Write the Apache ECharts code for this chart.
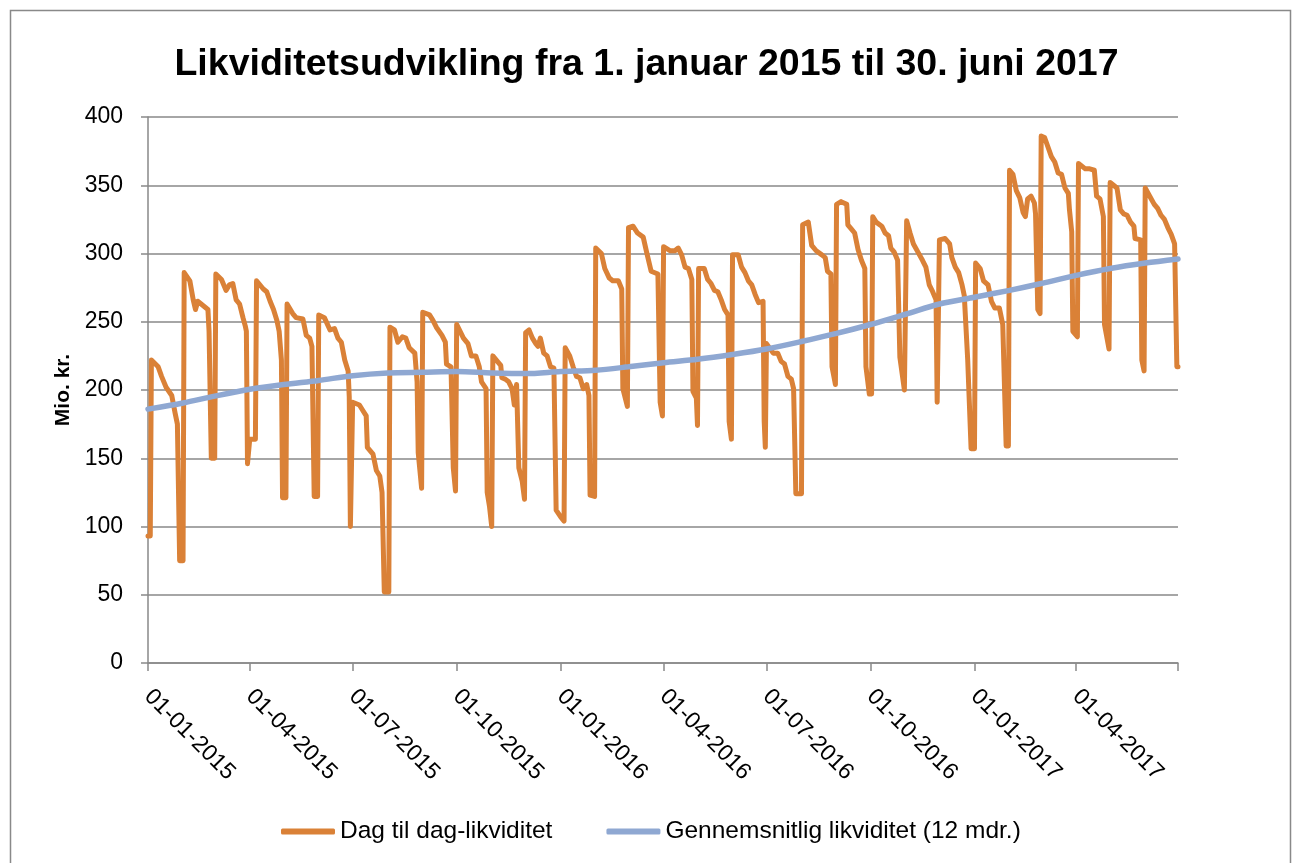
<!DOCTYPE html>
<html>
<head>
<meta charset="utf-8">
<title>Likviditetsudvikling</title>
<script src="https://cdn.jsdelivr.net/npm/echarts@6.0.0/dist/echarts.min.js"></script>
<style>
  html, body { margin: 0; padding: 0; background: #fff; }
  #chart { width: 1293px; height: 863px; }
</style>
</head>
<body>
<div id="chart"></div>
<script>
// Dag til dag-likviditet (mio. kr.), punkter, én linje pr. måned
const dagDates = [
  '2015-01-01', '2015-01-03', '2015-01-04', '2015-01-10', '2015-01-13', '2015-01-17', '2015-01-22', '2015-01-25', '2015-01-27', '2015-01-29',
  '2015-02-01', '2015-02-02', '2015-02-07', '2015-02-10', '2015-02-12', '2015-02-14', '2015-02-20', '2015-02-23', '2015-02-24', '2015-02-26',
  '2015-03-01', '2015-03-02', '2015-03-07', '2015-03-11', '2015-03-14', '2015-03-17', '2015-03-20', '2015-03-23', '2015-03-26', '2015-03-28', '2015-03-29', '2015-03-30', '2015-03-31',
  '2015-04-01', '2015-04-06', '2015-04-07', '2015-04-13', '2015-04-16', '2015-04-19', '2015-04-22', '2015-04-25', '2015-04-27', '2015-04-29', '2015-04-30',
  '2015-05-03', '2015-05-04', '2015-05-09', '2015-05-12', '2015-05-18', '2015-05-21', '2015-05-24', '2015-05-26', '2015-05-28', '2015-05-31',
  '2015-06-01', '2015-06-06', '2015-06-11', '2015-06-15', '2015-06-18', '2015-06-21', '2015-06-24', '2015-06-27', '2015-06-28', '2015-06-29', '2015-06-30',
  '2015-07-01', '2015-07-07', '2015-07-10', '2015-07-13', '2015-07-14', '2015-07-19', '2015-07-22', '2015-07-25', '2015-07-27', '2015-07-29', '2015-07-31',
  '2015-08-02', '2015-08-03', '2015-08-07', '2015-08-10', '2015-08-14', '2015-08-17', '2015-08-20', '2015-08-25', '2015-08-27', '2015-08-28', '2015-08-31',
  '2015-09-01', '2015-09-07', '2015-09-10', '2015-09-13', '2015-09-18', '2015-09-21', '2015-09-22', '2015-09-26', '2015-09-28', '2015-09-30',
  '2015-10-01', '2015-10-07', '2015-10-11', '2015-10-14', '2015-10-18', '2015-10-21', '2015-10-23', '2015-10-27', '2015-10-28', '2015-10-30',
  '2015-11-01', '2015-11-02', '2015-11-06', '2015-11-09', '2015-11-10', '2015-11-13', '2015-11-16', '2015-11-19', '2015-11-21', '2015-11-23', '2015-11-25', '2015-11-28', '2015-11-30',
  '2015-12-01', '2015-12-04', '2015-12-07', '2015-12-10', '2015-12-12', '2015-12-14', '2015-12-17', '2015-12-20', '2015-12-23', '2015-12-26', '2015-12-28',
  '2016-01-01', '2016-01-04', '2016-01-05', '2016-01-09', '2016-01-12', '2016-01-15', '2016-01-18', '2016-01-21', '2016-01-24', '2016-01-26', '2016-01-27', '2016-01-31',
  '2016-02-01', '2016-02-06', '2016-02-09', '2016-02-13', '2016-02-16', '2016-02-21', '2016-02-24', '2016-02-25', '2016-02-29',
  '2016-03-01', '2016-03-05', '2016-03-09', '2016-03-14', '2016-03-17', '2016-03-21', '2016-03-27', '2016-03-29', '2016-03-31',
  '2016-04-01', '2016-04-07', '2016-04-11', '2016-04-14', '2016-04-17', '2016-04-20', '2016-04-23', '2016-04-26', '2016-04-27', '2016-04-30',
  '2016-05-01', '2016-05-02', '2016-05-07', '2016-05-10', '2016-05-13', '2016-05-16', '2016-05-19', '2016-05-22', '2016-05-25', '2016-05-28', '2016-05-29', '2016-05-31',
  '2016-06-01', '2016-06-06', '2016-06-09', '2016-06-12', '2016-06-15', '2016-06-18', '2016-06-21', '2016-06-24', '2016-06-28', '2016-06-29', '2016-06-30',
  '2016-07-01', '2016-07-07', '2016-07-11', '2016-07-14', '2016-07-17', '2016-07-20', '2016-07-23', '2016-07-25', '2016-07-27',
  '2016-08-01', '2016-08-02', '2016-08-07', '2016-08-10', '2016-08-14', '2016-08-19', '2016-08-22', '2016-08-24', '2016-08-27', '2016-08-28', '2016-08-31',
  '2016-09-01', '2016-09-05', '2016-09-10', '2016-09-11', '2016-09-14', '2016-09-17', '2016-09-20', '2016-09-23', '2016-09-26', '2016-09-27', '2016-09-30',
  '2016-10-02', '2016-10-03', '2016-10-06', '2016-10-11', '2016-10-14', '2016-10-17', '2016-10-19', '2016-10-22', '2016-10-25', '2016-10-27', '2016-10-31',
  '2016-11-01', '2016-11-02', '2016-11-05', '2016-11-08', '2016-11-12', '2016-11-16', '2016-11-19', '2016-11-22', '2016-11-25', '2016-11-28', '2016-11-29', '2016-11-30',
  '2016-12-01', '2016-12-06', '2016-12-10', '2016-12-12', '2016-12-15', '2016-12-18', '2016-12-21', '2016-12-23', '2016-12-26', '2016-12-29',
  '2017-01-01', '2017-01-02', '2017-01-06', '2017-01-09', '2017-01-13', '2017-01-16', '2017-01-19', '2017-01-23', '2017-01-26', '2017-01-29', '2017-01-31',
  '2017-02-01', '2017-02-04', '2017-02-07', '2017-02-10', '2017-02-13', '2017-02-15', '2017-02-17', '2017-02-20', '2017-02-23', '2017-02-24', '2017-02-26', '2017-02-28',
  '2017-03-01', '2017-03-04', '2017-03-07', '2017-03-10', '2017-03-13', '2017-03-16', '2017-03-19', '2017-03-22', '2017-03-25', '2017-03-26', '2017-03-28', '2017-03-29',
  '2017-04-02', '2017-04-03', '2017-04-06', '2017-04-09', '2017-04-13', '2017-04-17', '2017-04-19', '2017-04-22', '2017-04-25', '2017-04-26', '2017-04-30',
  '2017-05-01', '2017-05-04', '2017-05-07', '2017-05-10', '2017-05-13', '2017-05-16', '2017-05-19', '2017-05-22', '2017-05-23', '2017-05-28', '2017-05-29', '2017-05-31',
  '2017-06-01', '2017-06-05', '2017-06-09', '2017-06-12', '2017-06-15', '2017-06-18', '2017-06-21', '2017-06-24', '2017-06-27', '2017-06-29', '2017-06-30',
]
const dagValues = [
  93, 93, 222, 217, 210, 202, 196, 183, 175, 75,
  75, 286, 280, 266, 259, 265, 261, 259, 243, 150,
  150, 285, 281, 273, 277, 278, 266, 263, 253, 247, 243, 146, 146,
  164, 164, 280, 274, 272, 265, 259, 251, 243, 222, 121,
  121, 263, 256, 253, 252, 240, 238, 232, 122, 122,
  255, 253, 244, 245, 238, 235, 222, 214, 195, 100, 100,
  191, 189, 185, 181, 158, 153, 141, 137, 125, 52, 52,
  52, 246, 244, 235, 239, 238, 231, 227, 206, 154, 128,
  257, 255, 251, 246, 240, 235, 219, 217, 143, 126,
  248, 238, 234, 225, 225, 217, 206, 201, 125, 115,
  100, 225, 221, 218, 209, 208, 206, 201, 189, 204, 143, 133, 120,
  242, 244, 238, 234, 232, 238, 227, 225, 217, 216, 112,
  107, 104, 231, 225, 217, 210, 209, 201, 204, 196, 123, 122,
  304, 300, 289, 282, 280, 280, 274, 201, 188,
  319, 320, 315, 312, 301, 287, 285, 191, 181,
  305, 302, 302, 304, 299, 290, 289, 281, 199, 194,
  174, 289, 289, 281, 278, 273, 272, 266, 259, 255, 177, 164,
  299, 299, 290, 286, 280, 277, 270, 264, 265, 177, 158,
  234, 227, 227, 221, 219, 210, 208, 201, 124,
  124, 321, 323, 306, 302, 299, 297, 287, 285, 217, 204,
  336, 338, 336, 321, 318, 315, 303, 295, 289, 217, 197,
  197, 327, 323, 320, 315, 313, 304, 301, 295, 224, 200,
  200, 324, 315, 307, 301, 295, 290, 277, 272, 266, 191, 191,
  310, 311, 307, 297, 290, 286, 277, 269, 222, 157,
  157, 293, 289, 280, 277, 265, 260, 260, 248, 159, 159,
  361, 358, 346, 341, 330, 327, 340, 342, 337, 329, 259, 256,
  386, 385, 378, 371, 367, 359, 358, 348, 344, 332, 316, 243,
  239, 366, 364, 362, 362, 361, 342, 340, 327, 248, 230,
  352, 350, 348, 332, 329, 328, 323, 320, 311, 310, 222, 214,
  348, 342, 336, 333, 328, 325, 319, 314, 307, 217, 217,
]

// Gennemsnitlig likviditet (12 mdr.)
const avgDates = [
  '2015-01-01', '2015-02-01', '2015-03-01', '2015-04-01', '2015-05-01', '2015-06-01',
  '2015-07-01', '2015-08-01', '2015-09-01', '2015-10-01', '2015-11-01', '2015-12-01',
  '2016-01-01', '2016-02-01', '2016-03-01', '2016-04-01', '2016-05-01', '2016-06-01',
  '2016-07-01', '2016-08-01', '2016-09-01', '2016-10-01', '2016-11-01', '2016-12-01',
  '2017-01-01', '2017-02-01', '2017-03-01', '2017-04-01', '2017-05-01', '2017-06-01', '2017-06-30',
]
const avgValues = [
  186, 190.5, 195.5, 200.5, 204, 207,
  210.5, 212.5, 213, 213.5, 212.5, 212,
  213.5, 214.5, 217, 220, 222.5, 226,
  230, 235.5, 241.5, 248, 255.5, 263,
  268, 273, 278, 284, 289, 293, 296,
]

// akse-etiketter (kvartaler)
const tickDates = [
  '2015-01-01', '2015-04-01', '2015-07-01', '2015-10-01',
  '2016-01-01', '2016-04-01', '2016-07-01', '2016-10-01',
  '2017-01-01', '2017-04-01',
]
const axisStart = '2015-01-01'
const axisEnd = '2017-06-30'

// datoer som tidsstempler (UTC), så en value-akse kan bruges med egne ticks
const toTime = s => {
  const p = s.split('-')
  return Date.UTC(+p[0], +p[1] - 1, +p[2])
}
const pad = n => (n < 10 ? '0' + n : '' + n)

const FONT = '"Liberation Sans", Arial, sans-serif'
const GRAY = '#898989'

const chart = echarts.init(document.getElementById('chart'), null, { renderer: 'canvas' })
const option = {
  animation: false,
  backgroundColor: '#fff',
  title: {
    text: 'Likviditetsudvikling fra 1. januar 2015 til 30. juni 2017',
    left: 'center',
    top: 41,
    textStyle: { fontFamily: FONT, fontSize: 37.5, fontWeight: 'bold', color: '#000' },
  },
  graphic: [
    {
      type: 'rect',
      shape: { x: 10.5, y: 10.5, width: 1280, height: 870 },
      style: { fill: 'none', stroke: GRAY, lineWidth: 1.5 },
      silent: true,
    },
  ],
  legend: {
    top: 819,
    left: 281,
    padding: 0,
    icon: 'roundRect',
    itemWidth: 54,
    itemHeight: 6,
    itemGap: 54,
    textStyle: { fontFamily: FONT, fontSize: 24.5, color: '#000' },
    data: ['Dag til dag-likviditet', 'Gennemsnitlig likviditet (12 mdr.)'],
  },
  grid: { left: 148, right: 115, top: 117, bottom: 200 },
  xAxis: {
    type: 'value',
    min: toTime(axisStart),
    max: toTime(axisEnd),
    splitLine: { show: false },
    axisLine: { lineStyle: { color: GRAY, width: 1.5 } },
    axisTick: {
      length: 8,
      lineStyle: { color: GRAY, width: 1.5 },
      customValues: tickDates.map(toTime).concat([toTime(axisEnd)]),
    },
    axisLabel: {
      rotate: -45,
      margin: 30,
      fontFamily: FONT,
      fontSize: 23,
      color: '#000',
      customValues: tickDates.map(toTime),
      formatter: v => {
        const d = new Date(v)
        return pad(d.getUTCDate()) + '-' + pad(d.getUTCMonth() + 1) + '-' + d.getUTCFullYear()
      },
    },
  },
  yAxis: {
    type: 'value',
    min: 0,
    max: 400,
    interval: 50,
    name: 'Mio. kr.',
    nameLocation: 'middle',
    nameGap: 74,
    nameTextStyle: { fontFamily: FONT, fontSize: 21, fontWeight: 'bold', color: '#000' },
    axisLine: { show: true, lineStyle: { color: GRAY, width: 1.5 } },
    axisTick: { show: true, length: 7, lineStyle: { color: GRAY, width: 1.5 } },
    axisLabel: { margin: 25, fontFamily: FONT, fontSize: 23, color: '#000' },
    splitLine: { lineStyle: { color: GRAY, width: 1.5 } },
  },
  series: [
    {
      name: 'Dag til dag-likviditet',
      type: 'line',
      showSymbol: false,
      color: '#DA8137',
      lineStyle: { width: 5, color: '#DA8137', cap: 'round', join: 'round' },
      data: dagDates.map((d, i) => [toTime(d), dagValues[i]]),
      z: 2,
    },
    {
      name: 'Gennemsnitlig likviditet (12 mdr.)',
      type: 'line',
      showSymbol: false,
      smooth: 0.3,
      color: '#8FA8D2',
      lineStyle: { width: 5.5, color: '#8FA8D2', cap: 'round' },
      data: avgDates.map((d, i) => [toTime(d), avgValues[i]]),
      z: 3,
    },
  ],
}
chart.setOption(option)
</script>
</body>
</html>
